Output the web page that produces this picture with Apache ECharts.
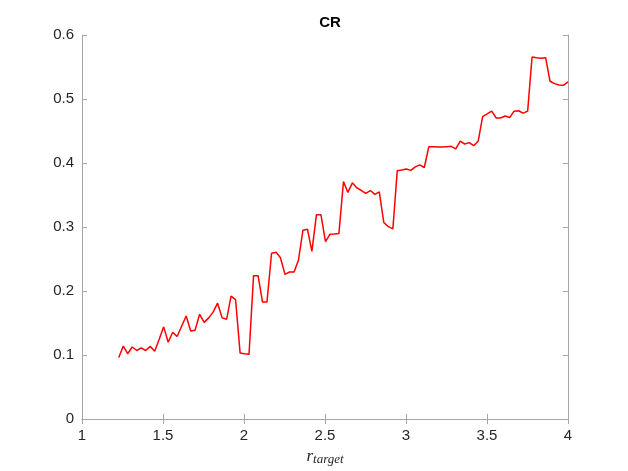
<!DOCTYPE html>
<html>
<head>
<meta charset="utf-8">
<script src="https://cdn.jsdelivr.net/npm/echarts@6/dist/echarts.min.js"></script>
<style>
  html, body { margin: 0; padding: 0; background: #fff; }
  #chart { width: 628px; height: 471px; }
</style>
</head>
<body>
<div id="chart"></div>
<script>
// r_target sample points
const rTarget = [
  1.227, 1.255, 1.282, 1.310, 1.338, 1.366, 1.393, 1.421, 1.449, 1.477,
  1.504, 1.532, 1.560, 1.587, 1.615, 1.643, 1.671, 1.698, 1.726, 1.754,
  1.782, 1.809, 1.837, 1.865, 1.893, 1.920, 1.948, 1.976, 2.003, 2.031,
  2.059, 2.087, 2.114, 2.142, 2.170, 2.198, 2.225, 2.253, 2.281, 2.309,
  2.336, 2.364, 2.392, 2.419, 2.447, 2.475, 2.503, 2.530, 2.558, 2.586,
  2.614, 2.641, 2.669, 2.697, 2.725, 2.752, 2.780, 2.808, 2.835, 2.863,
  2.891, 2.919, 2.946, 2.974, 3.002, 3.030, 3.057, 3.085, 3.113, 3.141,
  3.168, 3.196, 3.224, 3.251, 3.279, 3.307, 3.335, 3.362, 3.390, 3.418,
  3.446, 3.473, 3.501, 3.529, 3.557, 3.584, 3.612, 3.640, 3.667, 3.695,
  3.723, 3.751, 3.778, 3.806, 3.834, 3.862, 3.889, 3.917, 3.945, 3.972,
  4.000
];

// CR values
const crValues = [
  0.096, 0.114, 0.102, 0.1125, 0.107, 0.111, 0.107, 0.1135, 0.106, 0.125,
  0.144, 0.120, 0.1355, 0.129, 0.145, 0.161, 0.1375, 0.1386, 0.1636, 0.151,
  0.158, 0.167, 0.181, 0.158, 0.156, 0.192, 0.1865, 0.103, 0.102, 0.101,
  0.224, 0.224, 0.183, 0.183, 0.259, 0.2605, 0.252, 0.226, 0.2297, 0.2297,
  0.248, 0.295, 0.2964, 0.262, 0.319, 0.319, 0.277, 0.2886, 0.289, 0.290,
  0.371, 0.354, 0.369, 0.361, 0.357, 0.3526, 0.357, 0.351, 0.355, 0.307,
  0.3005, 0.297, 0.388, 0.389, 0.3906, 0.3885, 0.394, 0.397, 0.393, 0.4255,
  0.4255, 0.425, 0.425, 0.4255, 0.426, 0.422, 0.434, 0.4297, 0.4318, 0.427,
  0.4344, 0.4724, 0.4766, 0.481, 0.4703, 0.4703, 0.4734, 0.471, 0.481, 0.4817,
  0.478, 0.481, 0.5656, 0.5645, 0.5636, 0.5645, 0.5277, 0.524, 0.522, 0.5214,
  0.5266
];

const xTicks = [1, 1.5, 2, 2.5, 3, 3.5, 4];
const yTicks = [0, 0.1, 0.2, 0.3, 0.4, 0.5, 0.6];

const axisColor = '#262626';
const boxColor = '#a6a6a6';
const font = 'Liberation Sans, Arial, sans-serif';

const chart = echarts.init(document.getElementById('chart'), null, { renderer: 'canvas' });

const sideAxis = {
  axisLine: { show: true, lineStyle: { color: boxColor, width: 1 } },
  axisTick: { show: true, inside: true, length: 5, lineStyle: { color: boxColor } },
  splitLine: { show: false }
};

const option = {
  backgroundColor: '#fff',
  animation: false,
  title: {
    text: 'CR',
    left: 325,
    top: 10,
    textAlign: 'center',
    textStyle: { fontFamily: font, fontWeight: 'bold', fontSize: 15, color: '#000' }
  },
  grid: { left: 82, right: 60, top: 35, bottom: 52, outerBoundsMode: 'none', containLabel: false },
  xAxis: [
    Object.assign({}, sideAxis, {
      type: 'value',
      min: xTicks[0],
      max: xTicks[xTicks.length - 1],
      interval: 0.5,
      position: 'bottom',
      name: '{r|r}{sub|target}',
      nameLocation: 'middle',
      nameGap: 26,
      nameTextStyle: {
        rich: {
          r: { fontFamily: 'Liberation Serif, serif', fontStyle: 'italic', fontSize: 17, color: '#262626' },
          sub: { fontFamily: 'Liberation Serif, serif', fontStyle: 'italic', fontSize: 13, color: '#262626', padding: [6, 0, 0, 0] }
        }
      },
      axisLabel: {
        color: axisColor, fontFamily: font, fontSize: 15, margin: 9,
        formatter: v => String(v)
      }
    }),
    Object.assign({}, sideAxis, {
      type: 'value',
      min: xTicks[0],
      max: xTicks[xTicks.length - 1],
      interval: 0.5,
      position: 'top',
      axisLabel: { show: false }
    })
  ],
  yAxis: [
    Object.assign({}, sideAxis, {
      type: 'value',
      min: yTicks[0],
      max: yTicks[yTicks.length - 1],
      interval: 0.1,
      position: 'left',
      axisLabel: {
        color: axisColor, fontFamily: font, fontSize: 15, margin: 8,
        formatter: v => String(Math.round(v * 10) / 10)
      }
    }),
    Object.assign({}, sideAxis, {
      type: 'value',
      min: yTicks[0],
      max: yTicks[yTicks.length - 1],
      interval: 0.1,
      position: 'right',
      axisLabel: { show: false }
    })
  ],
  series: [
    {
      name: 'CR',
      type: 'line',
      data: rTarget.map((x, i) => [x, crValues[i]]),
      showSymbol: false,
      symbol: 'none',
      lineStyle: { color: '#ff0000', width: 1.5 },
      xAxisIndex: 0,
      yAxisIndex: 0
    }
  ]
};

chart.setOption(option);
</script>
</body>
</html>
